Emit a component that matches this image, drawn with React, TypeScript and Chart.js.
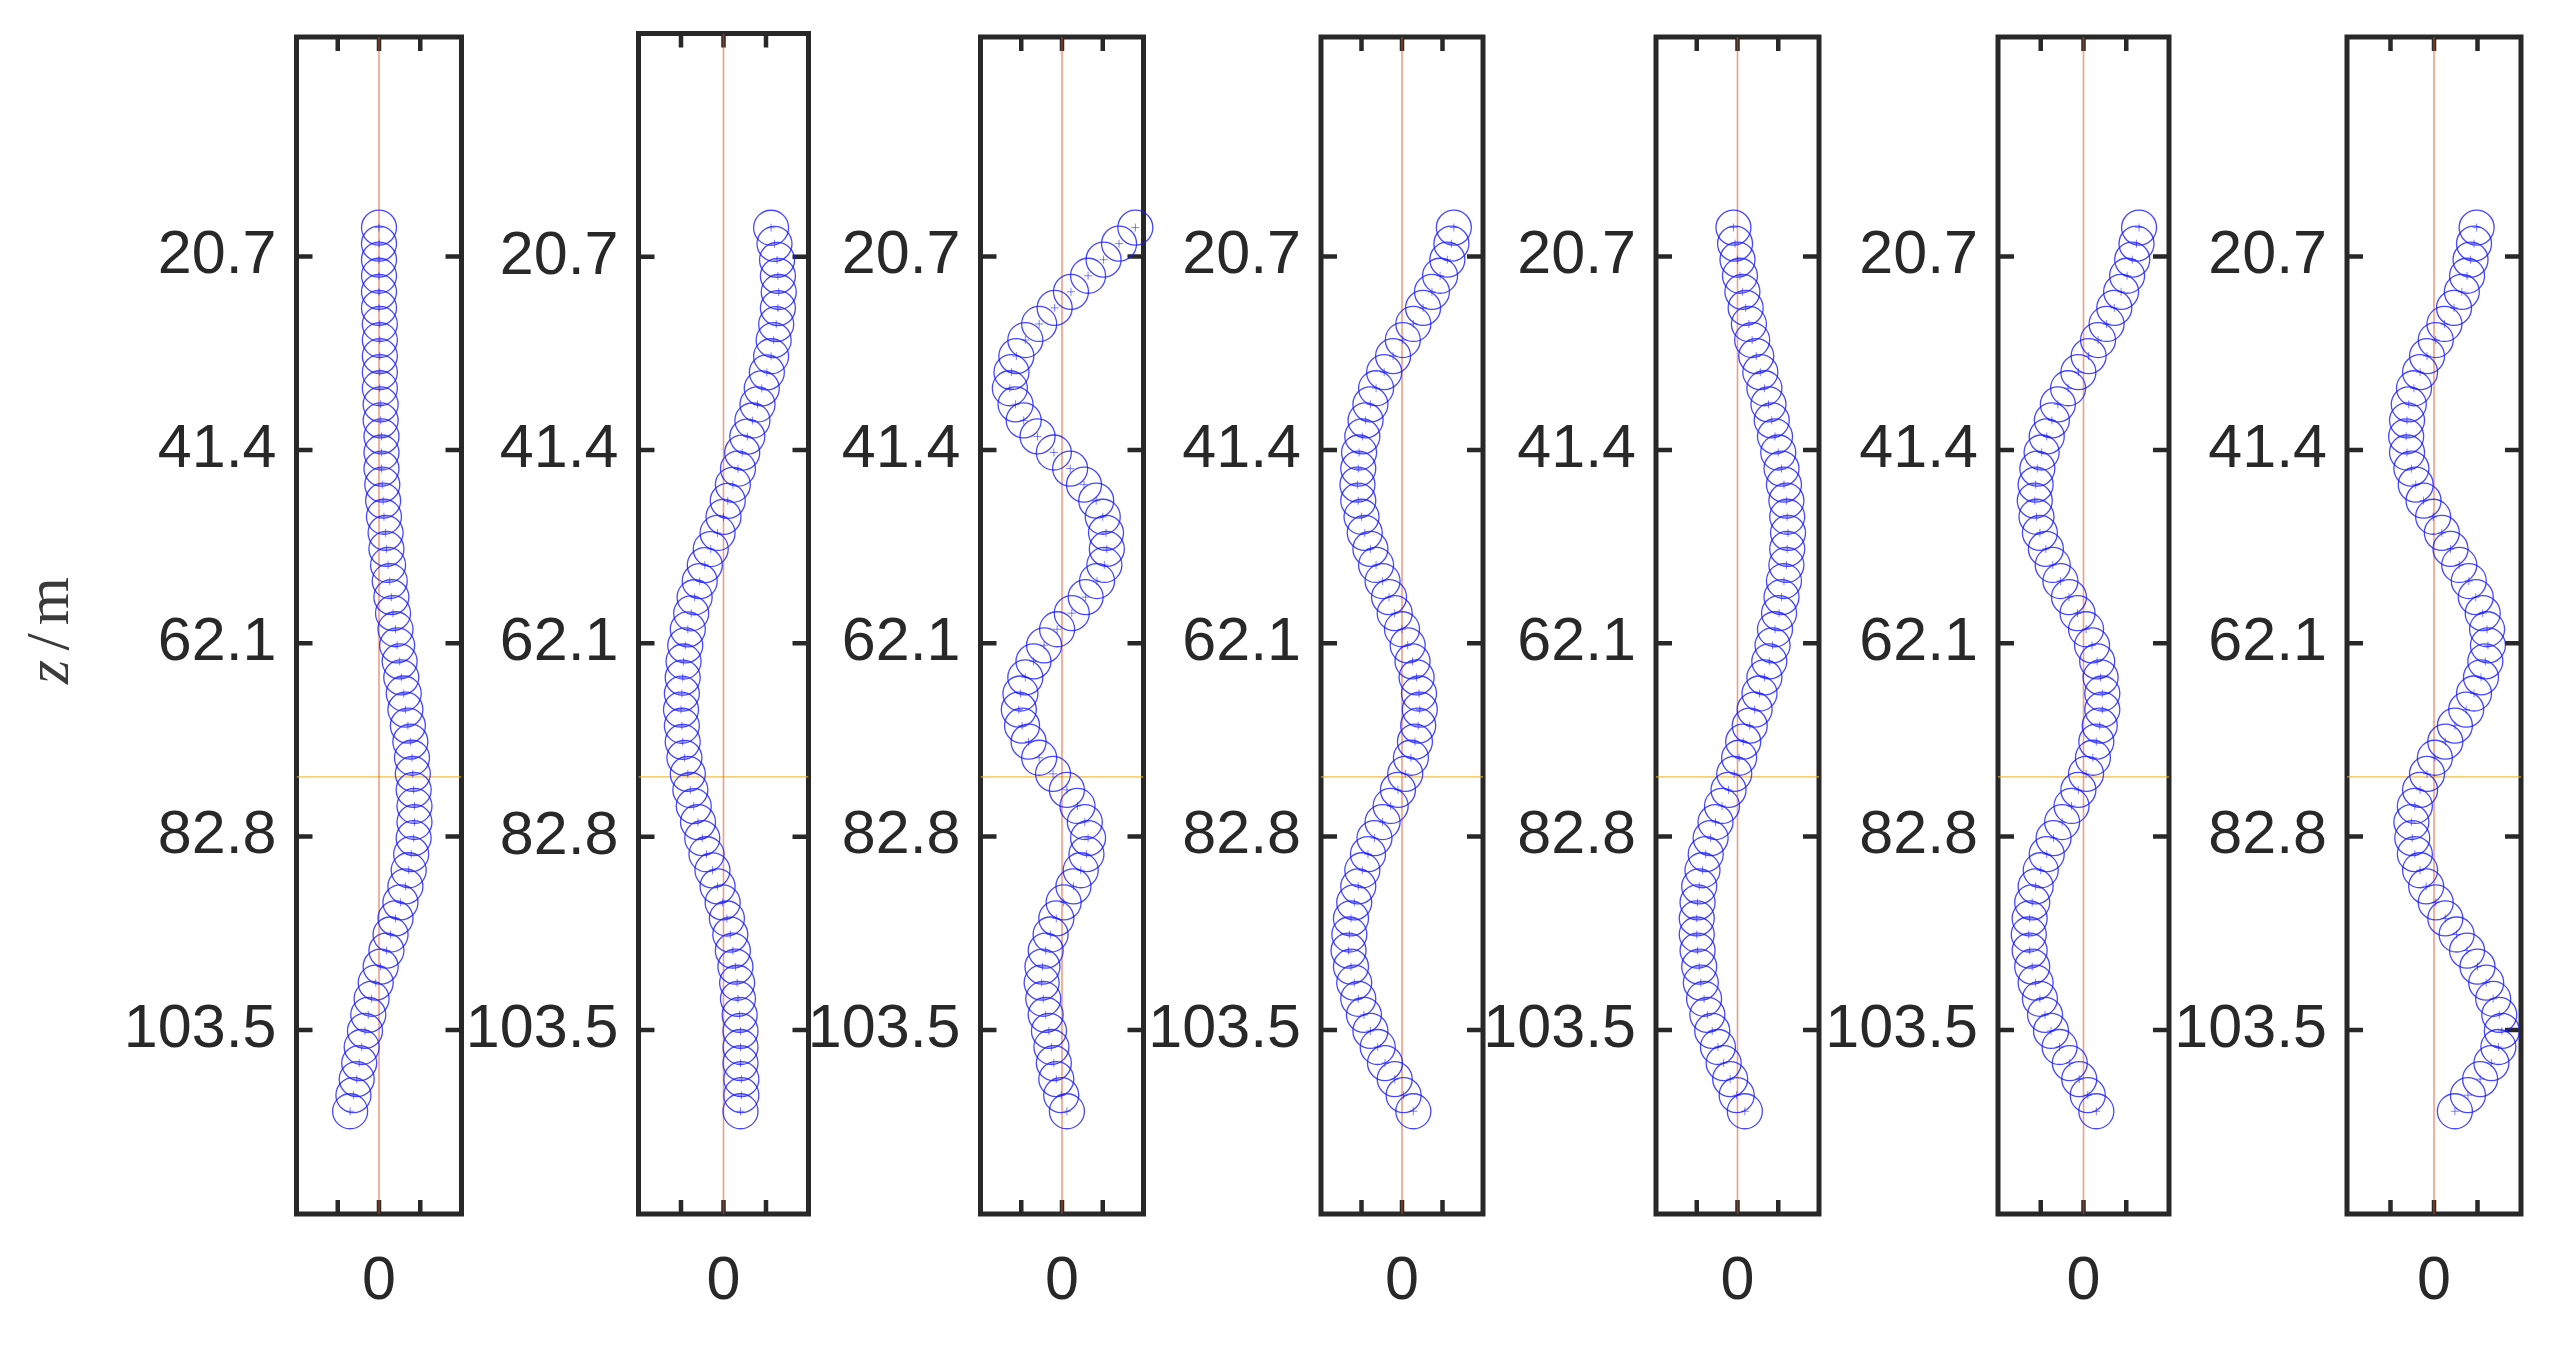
import React, { useEffect, useRef } from 'react';
import { Chart, registerables } from 'chart.js';

Chart.register(...registerables);

// ---------- data ----------
const zDepth = [17.6, 19.32, 21.04, 22.76, 24.48, 26.2, 27.92, 29.64, 31.36, 33.08, 34.8, 36.52, 38.24, 39.96, 41.68, 43.4, 45.12, 46.84, 48.56, 50.28, 52.0, 53.72, 55.44, 57.16, 58.88, 60.6, 62.32, 64.04, 65.76, 67.48, 69.2, 70.92, 72.64, 74.36, 76.08, 77.8, 79.52, 81.24, 82.96, 84.68, 86.4, 88.12, 89.84, 91.56, 93.28, 95.0, 96.72, 98.44, 100.16, 101.88, 103.6, 105.32, 107.04, 108.76, 110.48, 112.2];

const mode1 = [0.00, 0.00, 0.00, 0.00, 0.00, 0.00, 0.01, 0.01, 0.01, 0.01, 0.01, 0.02, 0.02, 0.03, 0.03, 0.03, 0.04, 0.05, 0.06, 0.08, 0.09, 0.11, 0.13, 0.15, 0.17, 0.20, 0.22, 0.25, 0.27, 0.30, 0.32, 0.35, 0.38, 0.40, 0.41, 0.42, 0.43, 0.43, 0.42, 0.39, 0.36, 0.32, 0.26, 0.20, 0.14, 0.09, 0.02, -0.04, -0.09, -0.13, -0.17, -0.21, -0.24, -0.27, -0.31, -0.35];
const mode2 = [0.56, 0.60, 0.63, 0.64, 0.65, 0.64, 0.62, 0.59, 0.56, 0.51, 0.45, 0.40, 0.34, 0.28, 0.22, 0.17, 0.11, 0.05, 0.00, -0.07, -0.15, -0.22, -0.28, -0.34, -0.38, -0.42, -0.45, -0.47, -0.48, -0.49, -0.50, -0.49, -0.48, -0.46, -0.42, -0.39, -0.35, -0.30, -0.25, -0.20, -0.13, -0.07, -0.01, 0.04, 0.08, 0.11, 0.14, 0.16, 0.17, 0.19, 0.20, 0.20, 0.20, 0.21, 0.21, 0.20];
const mode3 = [0.90, 0.70, 0.51, 0.32, 0.11, -0.09, -0.28, -0.45, -0.56, -0.62, -0.64, -0.57, -0.47, -0.30, -0.10, 0.10, 0.27, 0.42, 0.50, 0.54, 0.55, 0.52, 0.43, 0.29, 0.12, -0.06, -0.22, -0.35, -0.45, -0.51, -0.53, -0.49, -0.41, -0.28, -0.11, 0.06, 0.19, 0.28, 0.32, 0.30, 0.23, 0.14, 0.02, -0.07, -0.14, -0.20, -0.24, -0.25, -0.23, -0.20, -0.16, -0.13, -0.10, -0.07, -0.01, 0.06];
const mode4 = [0.64, 0.61, 0.56, 0.47, 0.37, 0.26, 0.14, 0.01, -0.11, -0.22, -0.32, -0.39, -0.45, -0.49, -0.53, -0.54, -0.55, -0.54, -0.50, -0.46, -0.39, -0.32, -0.24, -0.16, -0.09, 0.00, 0.07, 0.13, 0.18, 0.21, 0.22, 0.20, 0.16, 0.11, 0.04, -0.05, -0.14, -0.24, -0.34, -0.42, -0.49, -0.54, -0.59, -0.63, -0.65, -0.66, -0.63, -0.59, -0.54, -0.47, -0.39, -0.30, -0.21, -0.09, 0.02, 0.14];
const mode5 = [-0.05, -0.03, 0.00, 0.03, 0.06, 0.10, 0.14, 0.18, 0.23, 0.28, 0.33, 0.38, 0.42, 0.46, 0.50, 0.54, 0.57, 0.60, 0.61, 0.62, 0.61, 0.60, 0.57, 0.54, 0.51, 0.46, 0.43, 0.39, 0.33, 0.27, 0.21, 0.15, 0.07, 0.02, -0.04, -0.11, -0.19, -0.27, -0.33, -0.39, -0.43, -0.47, -0.49, -0.50, -0.50, -0.49, -0.47, -0.45, -0.41, -0.37, -0.31, -0.24, -0.17, -0.09, -0.01, 0.09];
const mode6 = [0.65, 0.62, 0.57, 0.51, 0.44, 0.36, 0.27, 0.17, 0.06, -0.06, -0.18, -0.30, -0.37, -0.43, -0.49, -0.54, -0.56, -0.57, -0.55, -0.51, -0.44, -0.36, -0.27, -0.17, -0.07, 0.03, 0.10, 0.16, 0.20, 0.22, 0.22, 0.19, 0.15, 0.11, 0.03, -0.06, -0.14, -0.25, -0.35, -0.43, -0.50, -0.56, -0.60, -0.63, -0.64, -0.63, -0.60, -0.56, -0.51, -0.45, -0.38, -0.28, -0.16, -0.05, 0.05, 0.15];
const mode7 = [0.49, 0.46, 0.42, 0.38, 0.32, 0.23, 0.12, 0.02, -0.08, -0.16, -0.23, -0.29, -0.31, -0.32, -0.31, -0.26, -0.21, -0.12, -0.01, 0.09, 0.19, 0.29, 0.40, 0.48, 0.56, 0.61, 0.62, 0.59, 0.54, 0.46, 0.37, 0.24, 0.13, 0.01, -0.08, -0.16, -0.22, -0.26, -0.25, -0.22, -0.16, -0.09, 0.02, 0.13, 0.26, 0.38, 0.50, 0.60, 0.68, 0.75, 0.78, 0.74, 0.66, 0.53, 0.39, 0.24];

const modes = [mode1, mode2, mode3, mode4, mode5, mode6, mode7];

const yTickValues = [20.7, 41.4, 62.1, 82.8, 103.5];
const xTickValues = [-0.5, 0, 0.5];
const xTickLabels = ['', '0', ''];
const zMinByPanel = [-2.8, -3.2, -2.8, -2.8, -2.8, -2.8, -2.8];
const zMax = 123.2;
const xMin = -1;
const xMax = 1;
const markDepth = 76.4;
const yTitleParts = ['z', '/', 'm'];

// ---------- layout / style ----------
const W = 2551;
const H = 1347;
const FRAME_BOTTOM = 1214;
const PANELS = [
  { left: 296.5, right: 461.5, top: 37 },
  { left: 638.5, right: 808.5, top: 33.5 },
  { left: 980.5, right: 1143.5, top: 37 },
  { left: 1321, right: 1483, top: 37 },
  { left: 1656, right: 1819, top: 37 },
  { left: 1998, right: 2169, top: 37 },
  { left: 2347, right: 2521, top: 37 },
];
const AXIS_COLOR = '#282828';
const BLUE = 'rgba(25,25,255,0.8)';
const RED = 'rgba(217,83,25,0.55)';
const YELLOW = 'rgba(237,177,32,0.6)';
const TICK_FONT = { family: '"Liberation Sans", Arial, Helvetica, sans-serif', size: 61 };

const framePlugin = {
  id: 'matlabFrame',
  beforeDatasetsDraw(chart: any) {
    const { ctx, chartArea } = chart;
    const { left, right, top, bottom } = chartArea;
    const xs = chart.scales.x;
    const ys = chart.scales.y;
    ctx.save();
    ctx.strokeStyle = AXIS_COLOR;
    ctx.lineWidth = 4.5;
    ctx.lineCap = 'butt';
    ctx.beginPath();
    for (const v of yTickValues) {
      const y = ys.getPixelForValue(v);
      ctx.moveTo(left, y);
      ctx.lineTo(left + 16, y);
      ctx.moveTo(right, y);
      ctx.lineTo(right - 16, y);
    }
    for (const v of xTickValues) {
      const x = xs.getPixelForValue(v);
      ctx.moveTo(x, bottom);
      ctx.lineTo(x, bottom - 14);
      ctx.moveTo(x, top);
      ctx.lineTo(x, top + 14);
    }
    ctx.stroke();
    ctx.lineWidth = 5;
    ctx.lineJoin = 'miter';
    ctx.strokeRect(left, top, right - left, bottom - top);
    ctx.restore();
  },
};

const titlePlugin = {
  id: 'zTitle',
  afterDraw(chart: any) {
    const { ctx } = chart;
    ctx.save();
    ctx.translate(68, 684);
    ctx.rotate(-Math.PI / 2);
    ctx.fillStyle = '#3a3a3a';
    ctx.textBaseline = 'alphabetic';
    ctx.textAlign = 'left';
    ctx.font = 'italic 62px "Liberation Serif", "Times New Roman", serif';
    ctx.fillText(yTitleParts[0], 0, 0);
    ctx.font = '62px "Liberation Serif", "Times New Roman", serif';
    ctx.textAlign = 'center';
    ctx.fillText(yTitleParts[1], 42, 0);
    const mw = ctx.measureText(yTitleParts[2]).width;
    ctx.textAlign = 'left';
    ctx.fillText(yTitleParts[2], 107 - mw, 0);
    ctx.restore();
  },
};

function Panel({ index }: { index: number }) {
  const ref = useRef<HTMLCanvasElement | null>(null);
  const f = PANELS[index];
  const canvasLeft = index === 0 ? 0 : Math.floor(f.left - 195);
  const canvasWidth = Math.ceil(f.right + 24 - canvasLeft);

  useEffect(() => {
    if (!ref.current) return;
    const values = modes[index];
    const pts = values.map((v, i) => ({ x: v, y: zDepth[i] }));
    const zMin = zMinByPanel[index];
    const chart = new Chart(ref.current, {
      type: 'scatter',
      data: {
        datasets: [
          {
            data: pts,
            pointStyle: 'circle',
            pointRadius: 17.5,
            pointHoverRadius: 17.5,
            pointBorderWidth: 1.3,
            borderColor: BLUE,
            backgroundColor: 'rgba(0,0,0,0)',
            showLine: false,
            clip: false,
          } as any,
          {
            data: pts,
            pointStyle: 'cross',
            pointRadius: 4,
            pointHoverRadius: 4,
            pointBorderWidth: 1,
            borderColor: 'rgba(25,25,255,0.55)',
            backgroundColor: 'rgba(0,0,0,0)',
            showLine: false,
            clip: false,
          } as any,
          {
            data: [{ x: 0, y: zMin }, { x: 0, y: zMax }],
            showLine: true,
            pointRadius: 0,
            borderColor: RED,
            borderWidth: 1.6,
          } as any,
          {
            data: [{ x: xMin, y: markDepth }, { x: xMax, y: markDepth }],
            showLine: true,
            pointRadius: 0,
            borderColor: YELLOW,
            borderWidth: 1.6,
          } as any,
        ],
      },
      options: {
        animation: false,
        responsive: false,
        devicePixelRatio: 1,
        events: [],
        layout: {
          padding: {
            left: 0,
            top: f.top,
            right: canvasWidth - (f.right - canvasLeft),
            bottom: 0,
          },
        },
        plugins: { legend: { display: false }, tooltip: { enabled: false } },
        scales: {
          x: {
            type: 'linear',
            position: 'bottom',
            min: xMin,
            max: xMax,
            grid: { display: false, drawTicks: false },
            border: { display: false },
            afterBuildTicks: (s: any) => {
              s.ticks = xTickValues.map((v) => ({ value: v }));
            },
            afterFit: (s: any) => {
              s.height = H - FRAME_BOTTOM;
              s.paddingLeft = 0;
              s.paddingRight = 0;
            },
            ticks: {
              autoSkip: false,
              maxRotation: 0,
              minRotation: 0,
              padding: 32,
              color: AXIS_COLOR,
              font: TICK_FONT,
              callback: (_v: any, i: number) => xTickLabels[i],
            },
          },
          y: {
            type: 'linear',
            reverse: true,
            min: zMin,
            max: zMax,
            grid: { display: false, drawTicks: false },
            border: { display: false },
            afterBuildTicks: (s: any) => {
              s.ticks = yTickValues.map((v) => ({ value: v }));
            },
            afterFit: (s: any) => {
              s.width = f.left - canvasLeft;
              s.paddingTop = 0;
              s.paddingBottom = 0;
            },
            ticks: {
              autoSkip: false,
              padding: 20,
              color: AXIS_COLOR,
              font: TICK_FONT,
              callback: (v: any) => Number(v).toFixed(1),
            },
          },
        },
      } as any,
      plugins: index === 0 ? [framePlugin, titlePlugin] : [framePlugin],
    });
    return () => chart.destroy();
  }, []);

  return (
    <canvas
      ref={ref}
      width={canvasWidth}
      height={H}
      style={{ position: 'absolute', left: canvasLeft, top: 0, width: canvasWidth, height: H }}
    />
  );
}

export default function App() {
  return (
    <div
      style={{
        position: 'fixed',
        left: 0,
        top: 0,
        width: W,
        height: H,
        background: '#ffffff',
        overflow: 'hidden',
      }}
    >
      {modes.map((_, i) => (
        <Panel key={i} index={i} />
      ))}
    </div>
  );
}
